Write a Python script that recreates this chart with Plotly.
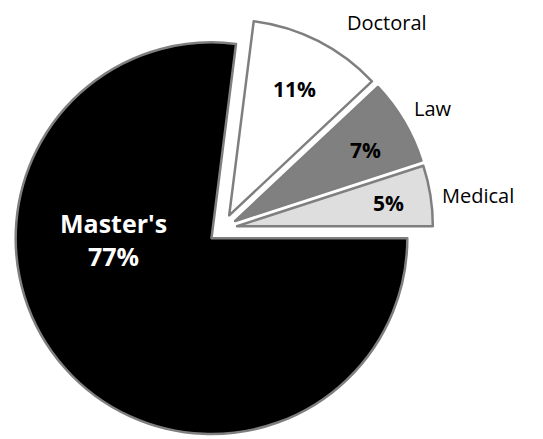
import plotly.graph_objects as go

# Degree types and their shares (%)
labels = ["Medical", "Law", "Doctoral", "Master's"]
shares = [5, 7, 11, 77]
fill_colors = ["#dedede", "#808080", "#ffffff", "#000000"]

W, H = 543, 439
TOP = 18

def px_x(x):
    return x / W

def px_y(y):
    return 1 - (y - TOP) / (H - TOP)

fig = go.Figure(
    go.Pie(
        labels=labels,
        values=shares,
        sort=False,
        direction="counterclockwise",
        rotation=72,
        pull=[0.075] * len(shares),
        marker=dict(colors=fill_colors, line=dict(color="#7f7f7f", width=2.5)),
        textinfo="none",
        showlegend=False,
        hoverinfo="label+value",
        domain=dict(x=[0.0148, 0.8048], y=[0, 1]),
    )
)

annotations = []

# Master's: name and share on two lines, white on black
master_idx = labels.index("Master's")
annotations.append(
    dict(
        x=px_x(113), y=px_y(239), xref="paper", yref="paper",
        text=f"{labels[master_idx]}<br>{shares[master_idx]}%",
        showarrow=False, xanchor="center", yanchor="middle", align="center",
        font=dict(family="Open Sans", size=25, color="#ffffff", weight="bold"),
    )
)

# share labels inside the small wedges
pct_pos = {"Doctoral": (294, 89), "Law": (365, 150), "Medical": (388, 203)}
# slice names outside the exploded wedges
name_pos = {"Doctoral": (345, 22), "Law": (412, 108), "Medical": (440, 195)}

for lab, v in zip(labels, shares):
    if lab in pct_pos:
        x, y = pct_pos[lab]
        annotations.append(
            dict(
                x=px_x(x), y=px_y(y), xref="paper", yref="paper",
                text=f"{v}%", showarrow=False, xanchor="center", yanchor="middle",
                font=dict(family="Open Sans", size=21, color="#000000", weight="bold"),
            )
        )
    if lab in name_pos:
        x, y = name_pos[lab]
        annotations.append(
            dict(
                x=px_x(x), y=px_y(y), xref="paper", yref="paper",
                text=lab, showarrow=False, xanchor="left", yanchor="middle",
                font=dict(family="Open Sans", size=20, color="#000000"),
            )
        )

fig.update_layout(
    width=W,
    height=H,
    margin=dict(l=0, r=0, t=TOP, b=0),
    paper_bgcolor="#ffffff",
    plot_bgcolor="#ffffff",
    annotations=annotations,
)

fig.write_html("out.html")
